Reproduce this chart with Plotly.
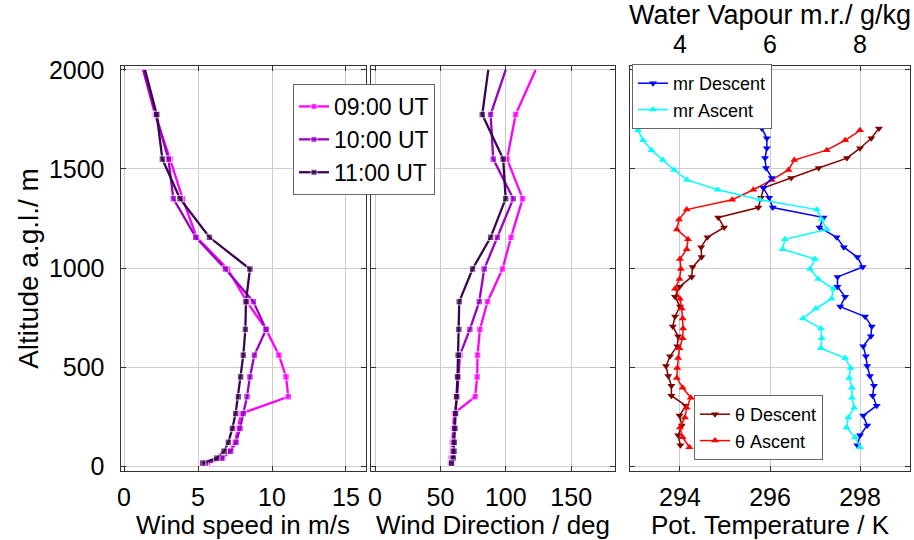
import plotly.graph_objects as go

W, H = 914, 540

# ---------------- data ----------------
alt_wind = [2000, 1775, 1550, 1350, 1155, 995, 830, 690, 560, 450, 350, 265, 190, 120, 75, 40, 15]
speed_09 = [1.30, 2.09, 3.11, 3.96, 4.91, 7.00, 8.30, 9.60, 10.47, 10.95, 11.10, 7.90, 7.70, 7.50, 7.10, 6.67, 5.63]
speed_10 = [1.30, 2.15, 3.00, 3.33, 4.85, 6.85, 8.74, 9.60, 8.81, 8.51, 8.31, 8.06, 7.84, 7.57, 7.21, 6.60, 5.50]
speed_11 = [1.42, 2.21, 2.59, 3.78, 5.77, 8.51, 8.24, 8.20, 8.06, 7.88, 7.73, 7.54, 7.32, 7.05, 6.76, 6.26, 5.31]
dir_09 = [122.8, 107.5, 101.0, 112.9, 104.0, 97.5, 86.0, 80.2, 78.4, 78.1, 76.6, 60.3, 59.9, 59.0, 58.6, 58.0, 57.5]
dir_10 = [99.9, 88.4, 90.4, 105.7, 93.5, 83.5, 79.7, 72.5, 64.9, 63.6, 62.8, 61.0, 60.5, 59.8, 59.5, 59.0, 58.0]
dir_11 = [86.6, 82.0, 98.0, 99.9, 88.4, 74.6, 64.4, 64.1, 63.6, 63.1, 62.3, 61.6, 61.1, 60.6, 60.4, 59.9, 58.6]
wind_labels = ["09:00 UT", "10:00 UT", "11:00 UT"]

alt_desc = [1705, 1655, 1605, 1555, 1505, 1455, 1405, 1355, 1305, 1255, 1205, 1155, 1105, 1055, 1005,
            955, 905, 855, 805, 755, 705, 655, 605, 555, 505, 455, 405, 355, 305, 255, 205, 155, 105]
alt_asc = [1695, 1645, 1595, 1545, 1495, 1445, 1395, 1345, 1295, 1245, 1195, 1145, 1095, 1045, 995,
           945, 895, 845, 795, 745, 695, 645, 595, 545, 495, 445, 395, 345, 295, 245, 195, 145, 95]
theta_desc = [298.42, 298.25, 298.00, 297.71, 297.08, 296.47, 295.86, 295.80, 295.74, 294.85, 294.98,
              294.61, 294.47, 294.48, 294.28, 294.26, 293.99, 293.89, 294.00, 293.89, 293.84, 293.96,
              293.94, 293.78, 293.69, 293.74, 293.81, 293.81, 294.13, 293.99, 294.04, 293.96, 294.01]
theta_asc = [298.00, 297.67, 297.26, 296.54, 296.41, 296.04, 295.63, 295.16, 294.15, 293.98, 293.93,
             294.18, 294.15, 294.00, 294.02, 293.99, 293.89, 294.00, 294.04, 294.06, 294.07, 294.06,
             293.99, 293.96, 293.94, 293.93, 294.06, 294.24, 294.15, 294.11, 294.00, 294.06, 294.21]
mr_desc = [5.82, 5.93, 5.93, 5.89, 5.91, 6.04, 5.85, 5.98, 6.06, 7.19, 7.10, 7.48, 7.64, 7.94, 8.06,
           7.50, 7.50, 7.67, 7.56, 8.11, 8.26, 8.24, 8.07, 8.13, 8.16, 8.22, 8.31, 8.28, 8.37, 8.07,
           8.16, 8.00, 7.94]
mr_asc = [3.07, 3.18, 3.37, 3.62, 3.87, 4.16, 4.84, 5.78, 7.04, 7.15, 7.26, 6.33, 6.28, 7.00, 6.89,
          7.07, 7.41, 7.37, 7.02, 6.73, 7.13, 7.15, 7.13, 7.67, 7.79, 7.76, 7.82, 7.82, 7.87, 7.74,
          7.70, 7.89, 8.00]

speed_ticks = [0, 5, 10, 15]
dir_ticks = [0, 50, 100, 150]
theta_ticks = [294, 296, 298]
mr_ticks = [4, 6, 8]
alt_ticks = [0, 500, 1000, 1500, 2000]

# ---------------- styling ----------------
FONT = "Liberation Sans"
wind_colors = ["#ff00ff", "#9b00c8", "#3a0550"]
C_TD, C_TA, C_MD, C_MA = "#800000", "#ff0000", "#0000ff", "#00ffff"
wind_msize = [0] + [6.5] * (len(alt_wind) - 1)

fig = go.Figure()

for lab, col, sp in zip(wind_labels, wind_colors, [speed_09, speed_10, speed_11]):
    fig.add_trace(go.Scatter(x=sp, y=alt_wind, mode="lines+markers", name=lab,
                             line=dict(color=col, width=2.3),
                             marker=dict(symbol="square", size=wind_msize, color=col),
                             xaxis="x", yaxis="y", legend="legend"))
for lab, col, dr in zip(wind_labels, wind_colors, [dir_09, dir_10, dir_11]):
    fig.add_trace(go.Scatter(x=dr, y=alt_wind, mode="lines+markers", name=lab, showlegend=False,
                             line=dict(color=col, width=2.3),
                             marker=dict(symbol="square", size=wind_msize, color=col),
                             xaxis="x2", yaxis="y2"))

fig.add_trace(go.Scatter(x=mr_desc, y=alt_desc, mode="lines+markers", name="mr Descent",
                         line=dict(color=C_MD, width=1.5),
                         marker=dict(symbol="triangle-down", size=7, color=C_MD),
                         xaxis="x4", yaxis="y3", legend="legend2"))
fig.add_trace(go.Scatter(x=mr_asc, y=alt_asc, mode="lines+markers", name="mr Ascent",
                         line=dict(color=C_MA, width=1.5),
                         marker=dict(symbol="triangle-up", size=7, color=C_MA),
                         xaxis="x4", yaxis="y3", legend="legend2"))
fig.add_trace(go.Scatter(x=theta_desc, y=alt_desc, mode="lines+markers", name="θ Descent",
                         line=dict(color=C_TD, width=1.5),
                         marker=dict(symbol="triangle-down", size=7, color=C_TD),
                         xaxis="x3", yaxis="y3", legend="legend3"))
fig.add_trace(go.Scatter(x=theta_asc, y=alt_asc, mode="lines+markers", name="θ Ascent",
                         line=dict(color=C_TA, width=1.5),
                         marker=dict(symbol="triangle-up", size=7, color=C_TA),
                         xaxis="x3", yaxis="y3", legend="legend3"))

ydom = [1 - 471 / H, 1 - 66 / H]
yrange = [-25, 2020]
axcommon = dict(showline=True, linecolor="#333", linewidth=1, ticks="inside", ticklen=5,
                tickcolor="#333", gridcolor="#cccccc", gridwidth=1, zeroline=False,
                automargin=False,
                tickfont=dict(size=25, color="#000"),
                title_font=dict(size=26, color="#000"))
xstand = dict(ticklabelstandoff=4)
top_common = {k: v for k, v in axcommon.items() if k not in ("gridcolor", "gridwidth", "title_font")}
y_common = {k: v for k, v in axcommon.items() if k != "title_font"}

fig.update_layout(
    width=W, height=H, margin=dict(l=0, r=0, t=0, b=0),
    paper_bgcolor="white", plot_bgcolor="white",
    font=dict(family=FONT, color="#000"),
    xaxis=dict(domain=[120.5 / W, 365.5 / W], range=[-0.24, 16.32], tickvals=speed_ticks,
               mirror="ticks", anchor="y", title=dict(text="Wind speed in m/s", standoff=6),
               **xstand, **axcommon),
    xaxis2=dict(domain=[371 / W, 615 / W], range=[-3.06, 183.5], tickvals=dir_ticks,
                mirror="ticks", anchor="y2", title=dict(text="Wind Direction / deg", standoff=6),
                **xstand, **axcommon),
    xaxis3=dict(domain=[630 / W, 910 / W], range=[292.89, 299.11], tickvals=theta_ticks,
                mirror=True, anchor="y3", title=dict(text="Pot. Temperature / K", standoff=6),
                **xstand, **axcommon),
    xaxis4=dict(overlaying="x3", side="top", range=[2.89, 9.11], tickvals=mr_ticks, anchor="y3",
                showgrid=False,
                title=dict(text="Water Vapour m.r./ g/kg", standoff=2,
                           font=dict(size=27, color="#000")),
                ticklabelstandoff=2, **top_common),
    yaxis=dict(domain=ydom, range=yrange, tickvals=alt_ticks, mirror="ticks", anchor="x",
               title=dict(text="Altitude a.g.l./ m", standoff=2, font=dict(size=28, color="#000")),
               ticklabelstandoff=10, **y_common),
    yaxis2=dict(domain=ydom, range=yrange, tickvals=alt_ticks, mirror="ticks", anchor="x2",
                showticklabels=False, matches="y", **axcommon),
    yaxis3=dict(domain=ydom, range=yrange, tickvals=alt_ticks, mirror="ticks", anchor="x3",
                showticklabels=False, matches="y", **axcommon),
    legend=dict(x=293 / W, y=1 - 84 / H, xanchor="left", yanchor="top", bgcolor="white",
                bordercolor="#666", borderwidth=1, font=dict(size=23),
                traceorder="normal"),
    legend2=dict(x=632 / W, y=1 - 64 / H, xanchor="left", yanchor="top", bgcolor="white",
                 bordercolor="#666", borderwidth=1, font=dict(size=18), traceorder="normal"),
    legend3=dict(x=694 / W, y=1 - 395 / H, xanchor="left", yanchor="top", bgcolor="white",
                 bordercolor="#666", borderwidth=1, font=dict(size=18), traceorder="normal"),
)

fig.write_html("out.html")
